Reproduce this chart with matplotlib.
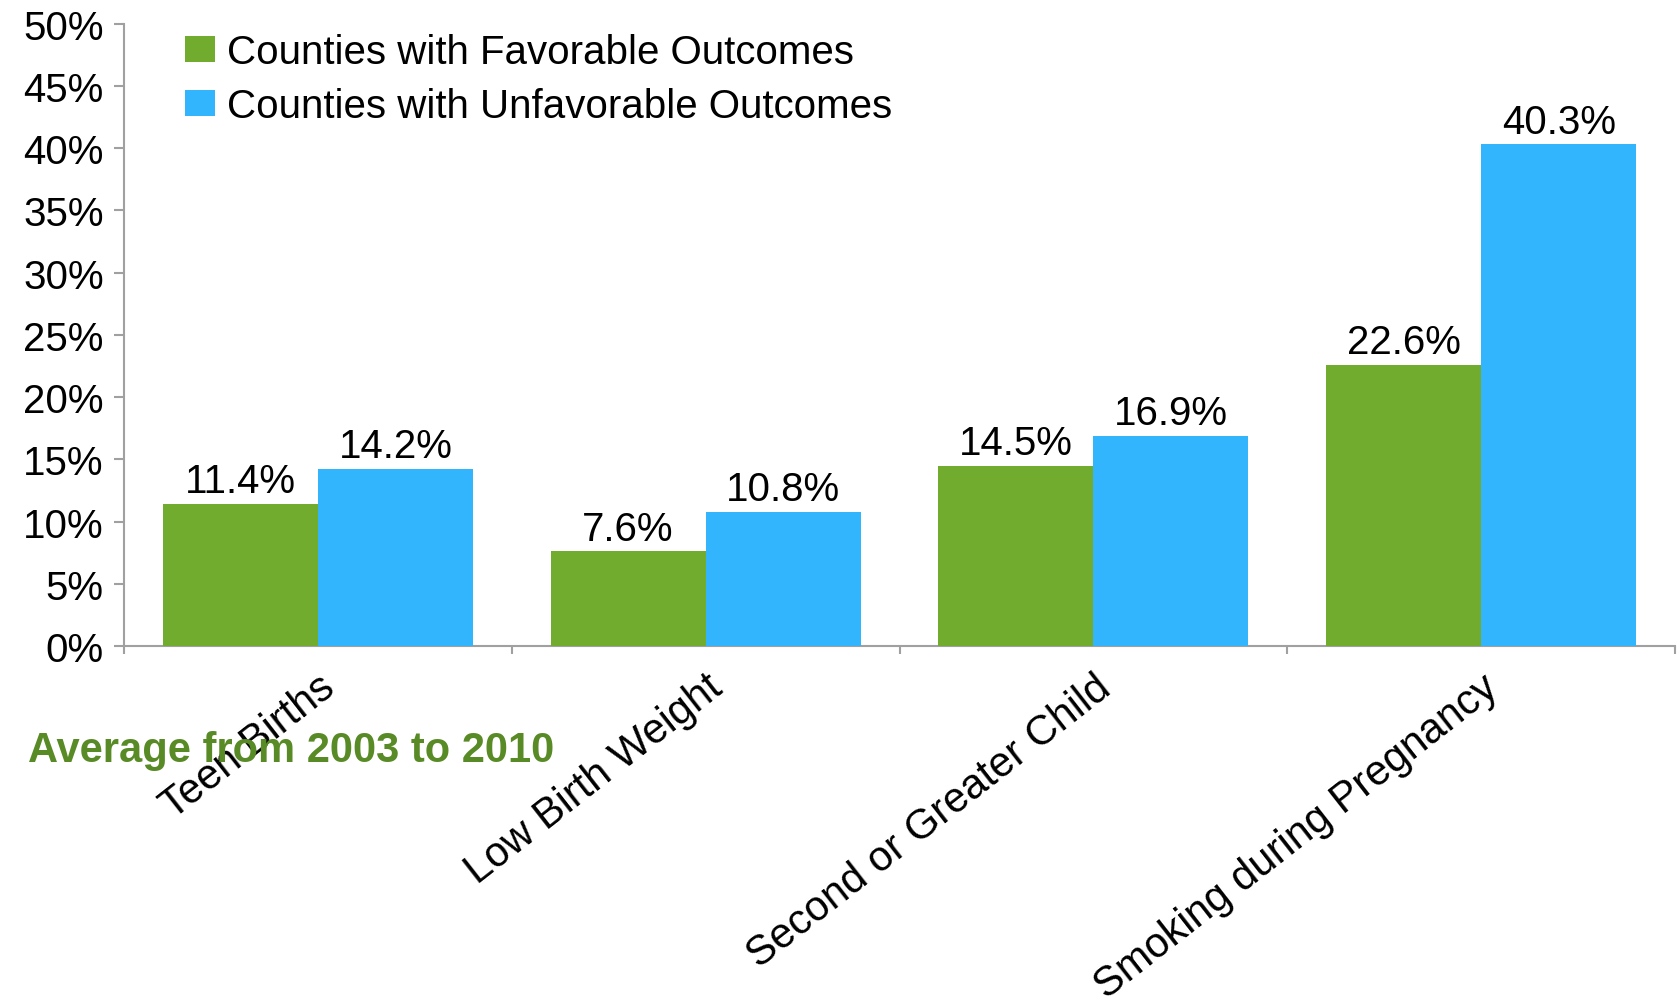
import matplotlib.pyplot as plt
from matplotlib.patches import Patch
from matplotlib.transforms import ScaledTranslation

plt.rcParams['font.family'] = ['Liberation Sans', 'DejaVu Sans']

# birth outcome indicators, averaged 2003-2010
categories = ['Teen Births', 'Low Birth Weight', 'Second or Greater Child', 'Smoking during Pregnancy']
favorable = [11.4, 7.6, 14.5, 22.6]
unfavorable = [14.2, 10.8, 16.9, 40.3]
series_names = ['Counties with Favorable Outcomes', 'Counties with Unfavorable Outcomes']
yticks = [0, 5, 10, 15, 20, 25, 30, 35, 40, 45, 50]

green = '#71AC2F'
blue = '#33B5FE'
axis_grey = '#A0A0A0'
fs = 29

W, H = 1680, 1004
fig = plt.figure(figsize=(W / 100, H / 100), dpi=100)
ax = fig.add_axes([124 / W, 1 - 647 / H, (1675 - 124) / W, (647 - 24.6) / H])

bw = 0.4
xs = list(range(len(categories)))
b1 = ax.bar([x - bw / 2 for x in xs], favorable, width=bw, color=green, zorder=3)
b2 = ax.bar([x + bw / 2 for x in xs], unfavorable, width=bw, color=blue, zorder=3)

for bars, vals in ((b1, favorable), (b2, unfavorable)):
    for rect, v in zip(bars, vals):
        ax.annotate(f'{v:.1f}%', (rect.get_x() + rect.get_width() / 2, v),
                    xytext=(0, 8.5), textcoords='offset points',
                    ha='center', va='baseline', fontsize=fs)

ax.set_xlim(-0.5, len(categories) - 0.5)
ax.set_ylim(0, 50)
ax.set_yticks(yticks)
ax.set_yticklabels([f'{t}%' for t in yticks])

# boundaries get the visible ticks, labels sit on the centres
ax.set_xticks([x - 0.5 for x in range(len(categories) + 1)])
ax.set_xticklabels([])
ax.set_xticks(xs, minor=True)
ax.set_xticklabels(categories, minor=True, rotation=38, ha='right', va='top',
                   rotation_mode='anchor', fontsize=30)
for lab in ax.get_xticklabels(minor=True):
    lab.set_transform(lab.get_transform() + ScaledTranslation(-3 / 100, 0, fig.dpi_scale_trans))

for s in ('top', 'right'):
    ax.spines[s].set_visible(False)
for s in ('left', 'bottom'):
    ax.spines[s].set_color(axis_grey)
    ax.spines[s].set_linewidth(1.5)
ax.tick_params(axis='y', which='major', direction='out', length=7, width=1.5,
               color=axis_grey, pad=7.5, labelsize=fs)
ax.tick_params(axis='x', which='major', direction='out', length=6, width=1.5, color=axis_grey)
ax.tick_params(axis='x', which='minor', length=0, pad=15)

handles = [Patch(facecolor=green, edgecolor='none'), Patch(facecolor=blue, edgecolor='none')]
ax.legend(handles, series_names, loc='upper left', bbox_to_anchor=(185 / W, 1 - 34 / H),
          bbox_transform=fig.transFigure, frameon=False, fontsize=fs, borderpad=0,
          borderaxespad=0, handlelength=0.75, handleheight=0.6, handletextpad=0.3,
          labelspacing=0.4)

fig.text(28 / W, 1 - 762 / H, 'Average from 2003 to 2010', ha='left', va='baseline',
         fontsize=30, fontweight='bold', color='#588A26', zorder=10)

fig.savefig('out.png', dpi=100)
